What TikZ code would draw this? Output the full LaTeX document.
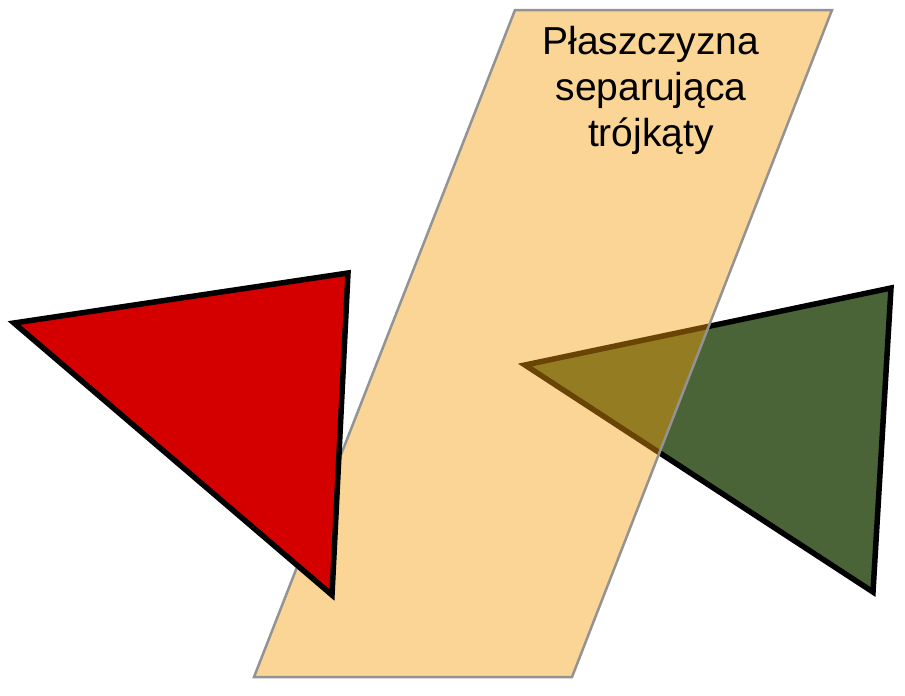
\documentclass[tikz,border=0pt]{standalone}
\usepackage{fontspec}
\setmainfont{Liberation Sans}
\definecolor{planeorange}{HTML}{F69E0A}
\definecolor{trired}{HTML}{D40000}
\definecolor{trigreen}{HTML}{4A6337}

\begin{document}
\begin{tikzpicture}[x=1pt, y=-1pt,
    triangle/.style={draw=black, line width=5.5pt, line join=miter},
    plane/.style={fill=planeorange, fill opacity=0.43, draw=gray!85, line width=2.5pt}]
  \useasboundingbox (0,0) rectangle (905,696);
  % green triangle sits behind the plane
  \draw[triangle, fill=trigreen] (525,365) -- (891,288) -- (873,592) -- cycle;
  % separating plane, half transparent
  \draw[plane] (515,10) -- (832,10) -- (572,677) -- (254,677) -- cycle;
  \node[anchor=north, inner sep=0pt, align=center,
        font=\fontsize{39}{46}\selectfont] (label) at (651,26)
    {Płaszczyzna\\separująca\\trójkąty};
  % red triangle in front
  \draw[triangle, fill=trired] (14,323) -- (348,273) -- (332,595) -- cycle;
\end{tikzpicture}
\end{document}
